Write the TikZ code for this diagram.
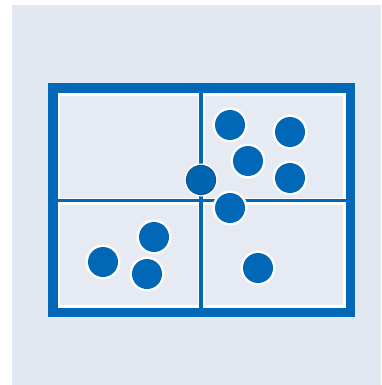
\documentclass[tikz,border=0pt]{standalone}
\definecolor{bgc}{HTML}{E2E8F1}
\definecolor{quadc}{HTML}{E6EBF3}
\definecolor{bluec}{HTML}{0068B6}
\definecolor{ringc}{HTML}{0B5299}
\tikzset{
  framebox/.style={fill=bluec},
  divider/.style={draw=bluec, line width=3.5pt},
  quad/.style={fill=quadc},
  halo/.style={fill=white},
  dot/.style={circle, fill=bluec, minimum size=30pt, inner sep=0pt},
  centerdot/.style={circle, fill=bluec!96!black, draw=ringc, line width=1.2pt, minimum size=29pt, inner sep=0pt},
}
\begin{document}
\begin{tikzpicture}[x=1pt,y=-1pt]
\useasboundingbox (0,0) rectangle (381,385);
\fill[white] (0,0) rectangle (381,385);
\fill[bgc] (12,5) rectangle (381,385);
% frame
\fill[framebox] (48,83) rectangle (355,317);
\fill[white] (57.5,93) rectangle (345.5,307.5);
% quadrants
\fill[quad] (60,96) rectangle (197.5,197.5);
\fill[quad] (205,96) rectangle (343,197.5);
\fill[quad] (60,204.5) rectangle (197.5,305);
\fill[quad] (205,204.5) rectangle (343,305);
% dividers
\draw[divider] (201,93) -- (201,307.5);
\draw[divider] (57.5,200.5) -- (345.5,200.5);
% halos
\foreach \p in {(230,125),(290,132),(248,161),(290,178),(230,208),(154,237),(103,262),(147,274),(258,268)}
  \fill[halo] \p circle (17.5);
\fill[halo] (201,180) circle (16.5);
% dots
\node[dot] (d1) at (230,125) {};
\node[dot] (d2) at (290,132) {};
\node[dot] (d3) at (248,161) {};
\node[dot] (d4) at (290,178) {};
\node[centerdot] (d5) at (201,180) {};
\node[dot] (d6) at (230,208) {};
\node[dot] (d7) at (154,237) {};
\node[dot] (d8) at (103,262) {};
\node[dot] (d9) at (147,274) {};
\node[dot] (d10) at (258,268) {};
\end{tikzpicture}
\end{document}
